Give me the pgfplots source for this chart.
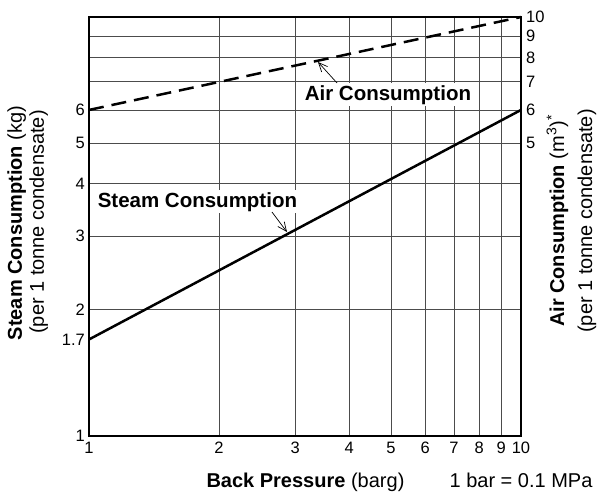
\documentclass[border=0pt]{standalone}
\usepackage{fontspec}
\setmainfont{Liberation Sans}
\usepackage{pgfplots}
\pgfplotsset{compat=1.18}
\usetikzlibrary{arrows.meta}
\begin{document}
\begin{tikzpicture}
\path[use as bounding box] (-89pt,-60pt) rectangle (509pt,436pt);
\begin{axis}[
  at={(0pt,0pt)}, anchor=south west, scale only axis,
  width=432pt, height=419pt,
  xmode=log, ymode=log, xmin=1, xmax=10, ymin=1, ymax=10,
  xtick={1,2,3,4,5,6,7,8,9,10}, xticklabels={1,2,3,4,5,6,7,8,9,10},
  ytick={1,2,3,4,5,6,7,8,9}, yticklabels={1,2,3,4,5,6,,,},
  extra y ticks={1.7}, extra y tick labels={1.7},
  extra y tick style={grid=none},
  grid=major, major grid style={black!70, line width=0.9pt},
  major tick length=0pt,
  axis line style={black, line width=1.3pt},
  /pgf/number format/assume math mode=true,
  tick label style={font=\fontsize{16.5}{16.5}\selectfont},
  yticklabel style={inner sep=0pt, xshift=-4pt},
  xticklabel style={inner sep=0pt, yshift=-6pt},
  clip=false,
]
\addplot[black, line width=2.5pt] coordinates {(1,1.7) (10,6)};
\addplot[black, line width=2.5pt, dash pattern=on 15pt off 8pt] coordinates {(1,6) (10,10)};
\node[fill=white, inner sep=2pt, anchor=base, font=\fontsize{20.5}{20.5}\selectfont\bfseries]
  at (rel axis cs:0.251,0.5465) {Steam Consumption};
\node[fill=white, inner sep=2pt, anchor=base, font=\fontsize{20.5}{20.5}\selectfont\bfseries]
  at (rel axis cs:0.692,0.8019) {Air Consumption};
\draw[black, line width=0.7pt, -{Straight Barb[length=9pt, width=8pt]}]
  (rel axis cs:0.4236,0.5346) -- (rel axis cs:0.4583,0.4869);
\draw[black, line width=0.7pt, -{Straight Barb[length=9pt, width=8pt]}]
  (rel axis cs:0.5741,0.8425) -- (rel axis cs:0.5301,0.8926);
\end{axis}
\begin{axis}[
  at={(0pt,0pt)}, anchor=south west, scale only axis,
  width=432pt, height=419pt,
  xmode=log, ymode=log, xmin=1, xmax=10, ymin=1, ymax=10,
  axis x line=none, axis y line*=right,
  ytick={5,6,7,8,9,10}, yticklabels={5,6,7,8,9,10},
  major tick length=0pt,
  axis line style={black, line width=1.3pt},
  /pgf/number format/assume math mode=true,
  tick label style={font=\fontsize{16.5}{16.5}\selectfont},
  yticklabel style={inner sep=0pt, xshift=5pt},
]
\addplot[draw=none] coordinates {(1,1)};
\end{axis}
\node[rotate=90, anchor=base, font=\fontsize{20}{20}\selectfont] at (-67pt,213pt)
  {\textbf{Steam Consumption} (kg)};
\node[rotate=90, anchor=base, font=\fontsize{20}{20}\selectfont] at (-45pt,214pt)
  {(per 1 tonne condensate)};
\node[rotate=90, anchor=base, font=\fontsize{20}{20}\selectfont] at (475pt,215pt)
  {\textbf{Air Consumption} (m\textsuperscript{3})\textsuperscript{*}};
\node[rotate=90, anchor=base, font=\fontsize{20}{20}\selectfont] at (503pt,215pt)
  {(per 1 tonne condensate)};
\node[anchor=base west, font=\fontsize{20}{20}\selectfont] at (114pt,-51pt)
  {\textbf{Back Pressure} (barg)};
\node[anchor=base east, font=\fontsize{20}{20}\selectfont] at (507pt,-51pt)
  {1 bar = 0.1 MPa};
\end{tikzpicture}
\end{document}
